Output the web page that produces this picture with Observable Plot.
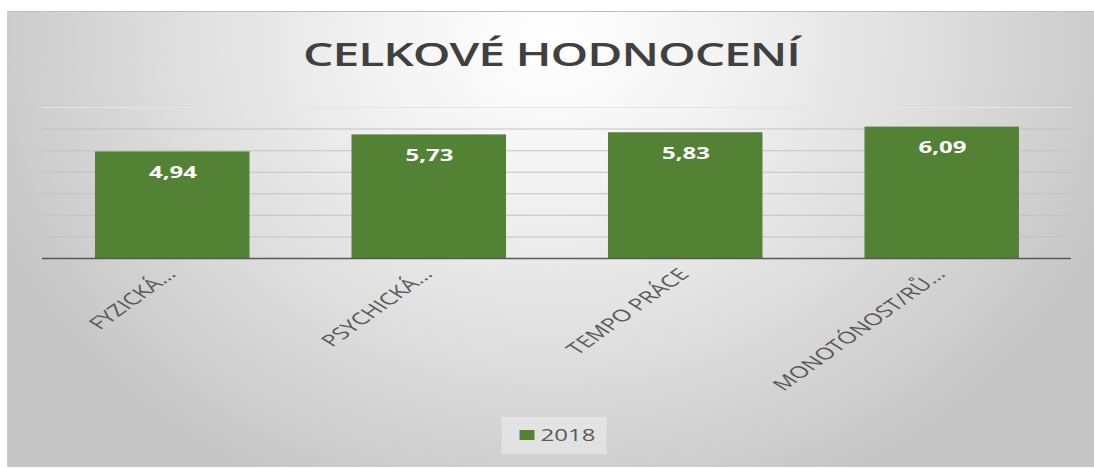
<!DOCTYPE html>
<html>
<head>
<meta charset="utf-8">
<script src="https://cdn.jsdelivr.net/npm/d3@7"></script>
<script src="https://cdn.jsdelivr.net/npm/@observablehq/plot@0.6"></script>
<style>
  html, body { margin: 0; padding: 0; background: #ffffff; }
  body { width: 1094px; height: 468px; position: relative; overflow: hidden; font-family: "Open Sans", sans-serif; }
  #frame {
    position: absolute; left: 7px; top: 11px; width: 1087px; height: 456px;
    box-sizing: border-box;
    border-top: 1px solid #bdbdbd; border-left: 1px solid #cfcfcf;
    background: radial-gradient(ellipse 55% 110% at 50% 6%, #ffffff 0%, #f3f3f3 28%, #e0e0e0 60%, #c6c6c6 100%);
    overflow: hidden;
  }
  #inner { width: 724.67px; transform: scaleX(1.5); transform-origin: 0 0; }
  #title {
    height: 74px; box-sizing: border-box; padding-top: 26px;
    text-align: center; font-size: 32px; line-height: 32px; color: #404040;
    font-family: "Open Sans", sans-serif; font-weight: 600; letter-spacing: -0.7px;
  }
  #chart svg { display: block; overflow: visible; }
  #legendrow { display: flex; justify-content: center; margin-top: 7px; }
  #legendbox {
    background: rgba(255,255,255,0.35); height: 37px; box-sizing: border-box;
    padding: 0 7px 0 12px; display: flex; align-items: center; margin-left: 3px;
  }
  #legendbox .lg-swatches { margin: 0 !important; font-size: 16px !important; font-family: "Open Sans", sans-serif !important; color: #595959 !important; min-height: 0 !important; }
  #legendbox .lg-swatch { margin-right: 0 !important; }
  #legendbox .lg-swatch > svg { margin-right: 4px !important; }
</style>
</head>
<body>
<div id="frame">
  <div id="inner">
    <div id="title"></div>
    <div id="chart"></div>
    <div id="legendrow"><div id="legendbox"></div></div>
  </div>
</div>
<script>
// ---- data ----
const titleText = "CELKOVÉ HODNOCENÍ";
const categories = ["FYZICKÁ...", "PSYCHICKÁ...", "TEMPO PRÁCE", "MONOTÓNOST/RŮ..."];
const values2018 = [4.94, 5.73, 5.83, 6.09];
const seriesName = "2018";
const yTicks = [0, 1, 2, 3, 4, 5, 6, 7];

const barColor = "#548235";
const fmt = d3.formatLocale({decimal: ",", thousands: " ", grouping: [3], currency: ["", " Kč"]}).format(".2f");
const data = categories.map((c, i) => ({category: c, value: values2018[i]}));

document.getElementById("title").textContent = titleText;

const chart = Plot.plot({
  width: 724.67,
  height: 324,
  marginTop: 21,
  marginBottom: 152,
  marginLeft: 22.67,
  marginRight: 16,
  style: {background: "transparent", fontFamily: "Open Sans, sans-serif", fontSize: "15px", color: "#595959", overflow: "visible"},
  x: {domain: categories, paddingInner: 0.4, paddingOuter: 0.2, axis: null},
  y: {domain: [0, 7], axis: null},
  marks: [
    Plot.ruleY(yTicks.filter(t => t > 0 && t < 7), {stroke: "#c2c2c2", strokeWidth: 1}),
    Plot.ruleY(yTicks.filter(t => t === 7), {stroke: "#e4e4e4", strokeWidth: 1}),
    Plot.barY(data, {x: "category", y: "value", fill: barColor}),
    Plot.text(data, {x: "category", y: "value", text: d => fmt(d.value), dy: 21, fill: "white", fontWeight: "bold", fontSize: 16}),
    Plot.ruleY(yTicks.filter(t => t === 0), {stroke: "#595959", strokeWidth: 1.5}),
    Plot.axisX({tickSize: 0, tickPadding: 13, tickRotate: -47, dx: -1, fontSize: 16.5, fontWeight: 500, fill: "#595959", label: null})
  ]
});
document.getElementById("chart").appendChild(chart);

const legend = Plot.legend({
  color: {type: "ordinal", domain: [seriesName], range: [barColor]},
  legend: "swatches",
  swatchSize: 10,
  className: "lg"
});
document.getElementById("legendbox").appendChild(legend);
</script>
</body>
</html>
